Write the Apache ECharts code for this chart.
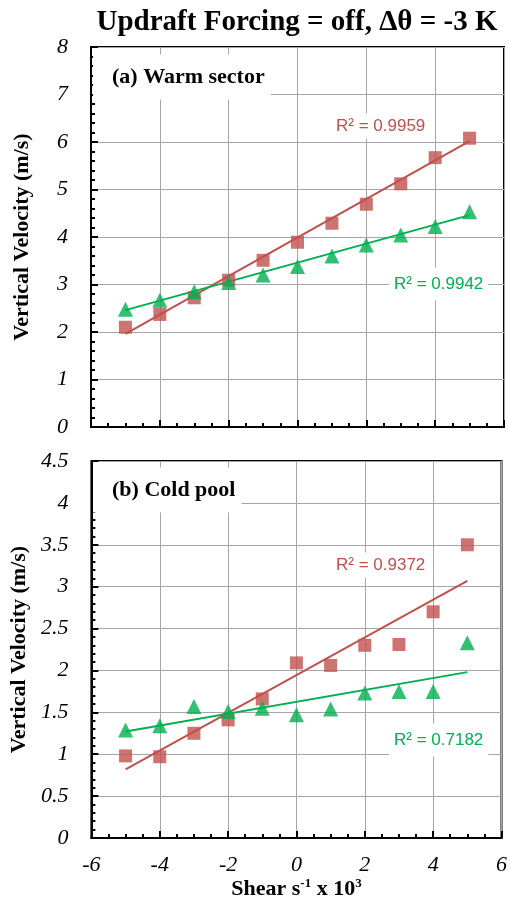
<!DOCTYPE html>
<html>
<head>
<meta charset="utf-8">
<script src="https://cdn.jsdelivr.net/npm/echarts@6/dist/echarts.min.js"></script>
<style>
  html, body { margin: 0; padding: 0; background: #fff; }
  #chart { width: 510px; height: 916px; }
</style>
</head>
<body>
<div id="chart"></div>
<script>
// shear values (s^-1 x 10^3)
const shear = [-5, -4, -3, -2, -1, 0, 1, 2, 3, 4, 5]

// (a) warm sector
const warmRed = [2.10, 2.37, 2.72, 3.09, 3.51, 3.89, 4.29, 4.69, 5.12, 5.67, 6.08]
const warmGreen = [2.48, 2.67, 2.85, 3.04, 3.20, 3.38, 3.60, 3.83, 4.04, 4.22, 4.53]

// (b) cold pool
const coldRed = [0.98, 0.97, 1.25, 1.41, 1.66, 2.09, 2.06, 2.30, 2.31, 2.70, 3.50]
const coldGreen = [1.29, 1.34, 1.57, 1.51, 1.55, 1.47, 1.54, 1.73, 1.75, 1.75, 2.33]

// linear trendlines, read at x = -5 and x = 5
const trendX = [-5, 5]
const warmRedTrend = [1.96, 6.02]
const warmGreenTrend = [2.46, 4.46]
const coldRedTrend = [0.82, 3.07]
const coldGreenTrend = [1.27, 1.98]

const r2Labels = ['R² = 0.9959', 'R² = 0.9942', 'R² = 0.9372', 'R² = 0.7182']

const RED = '#C0504D'
const GREEN = '#00B050'
const serif = '"Liberation Serif", "Times New Roman", serif'

const pairs = (xs, ys) => xs.map((x, i) => [x, ys[i]])

function xAxisFor(gridIndex, showLabels) {
  return {
    type: 'value',
    gridIndex: gridIndex,
    min: -6,
    max: 6,
    interval: 2,
    axisLine: { show: true, onZero: false, lineStyle: { color: '#000', width: 2 } },
    axisTick: { show: true, inside: true, length: 7, lineStyle: { color: '#000', width: 2 } },
    minorTick: { show: true, splitNumber: 4, length: 4, lineStyle: { color: '#000', width: 2 } },
    splitLine: { show: true, lineStyle: { color: '#a6a6a6', width: 1 } },
    axisLabel: {
      show: showLabels,
      margin: 16,
      color: '#000',
      fontFamily: serif,
      fontStyle: 'italic',
      fontSize: 22,
    },
    name: showLabels ? 'Shear s{sup|-1} x 10{sup|3}' : '',
    nameLocation: 'middle',
    nameGap: 34,
    nameTextStyle: {
      color: '#000',
      fontFamily: serif,
      fontWeight: 'bold',
      fontSize: 22,
      rich: {
        sup: { fontFamily: serif, fontWeight: 'bold', fontSize: 13, verticalAlign: 'top', lineHeight: 24, color: '#000' },
      },
    },
  }
}

function yAxisFor(gridIndex, max, interval) {
  return {
    type: 'value',
    gridIndex: gridIndex,
    min: 0,
    max: max,
    interval: interval,
    axisLine: { show: true, onZero: false, lineStyle: { color: '#000', width: 2 } },
    axisTick: { show: true, inside: true, length: 7, lineStyle: { color: '#000', width: 2 } },
    minorTick: { show: true, splitNumber: 5, length: 4, lineStyle: { color: '#000', width: 2 } },
    splitLine: { show: true, lineStyle: { color: '#a6a6a6', width: 1 } },
    axisLabel: {
      margin: 23,
      color: '#000',
      fontFamily: serif,
      fontStyle: 'italic',
      fontSize: 22,
    },
    name: 'Vertical Velocity (m/s)',
    nameLocation: 'middle',
    nameRotate: 90,
    nameGap: 58,
    nameTextStyle: { color: '#000', fontFamily: serif, fontWeight: 'bold', fontSize: 22 },
  }
}

function scatter(idx, ys, color, symbol) {
  return {
    type: 'scatter',
    xAxisIndex: idx,
    yAxisIndex: idx,
    data: pairs(shear, ys),
    symbol: symbol,
    symbolSize: symbol === 'rect' ? 13 : 15,
    itemStyle: { color: color },
    z: 3,
  }
}

function trend(idx, ys, color) {
  return {
    type: 'line',
    xAxisIndex: idx,
    yAxisIndex: idx,
    data: pairs(trendX, ys),
    showSymbol: false,
    symbol: 'none',
    lineStyle: { color: color, width: 2 },
    z: 2,
  }
}

function label(text, x, y, opts) {
  return {
    type: 'text',
    x: x,
    y: y,
    z: 100,
    style: Object.assign({
      text: text,
      align: 'left',
      verticalAlign: 'middle',
      backgroundColor: '#fff',
    }, opts),
  }
}

const chart = echarts.init(document.getElementById('chart'), null, { renderer: 'canvas' })

const option = {
  animation: false,
  backgroundColor: '#fff',
  grid: [
    { left: 91, right: 6, top: 47, height: 380, show: true, borderColor: '#000', borderWidth: 2, backgroundColor: 'transparent' },
    { left: 91, right: 6, top: 461, height: 377, show: true, borderColor: '#000', borderWidth: 2, backgroundColor: 'transparent' },
  ],
  xAxis: [xAxisFor(0, false), xAxisFor(1, true)],
  yAxis: [yAxisFor(0, 8, 1), yAxisFor(1, 4.5, 0.5)],
  series: [
    trend(0, warmRedTrend, RED),
    trend(0, warmGreenTrend, GREEN),
    scatter(0, warmRed, RED, 'rect'),
    scatter(0, warmGreen, GREEN, 'triangle'),
    trend(1, coldRedTrend, RED),
    trend(1, coldGreenTrend, GREEN),
    scatter(1, coldRed, RED, 'rect'),
    scatter(1, coldGreen, GREEN, 'triangle'),
  ],
  graphic: [
    {
      type: 'text',
      x: 297,
      y: 23,
      style: {
        text: 'Updraft Forcing = off, Δθ = -3 K',
        font: 'bold 29px ' + serif,
        fill: '#000',
        align: 'center',
        verticalAlign: 'middle',
      },
    },
    // panel labels
    label('(a) Warm sector', 93, 77, { font: 'bold 22px ' + serif, fill: '#000', padding: [18, 6, 5, 19] }),
    label('(b) Cold pool', 93, 490, { font: 'bold 22px ' + serif, fill: '#000', padding: [18, 6, 5, 19] }),
    // R² labels
    label(r2Labels[0], 332, 126, { font: '17px "Liberation Sans", Arial, sans-serif', fill: RED, padding: [4, 4] }),
    label(r2Labels[1], 389, 284, { font: '17px "Liberation Sans", Arial, sans-serif', fill: GREEN, padding: [8, 5] }),
    label(r2Labels[2], 332, 565, { font: '17px "Liberation Sans", Arial, sans-serif', fill: RED, padding: [4, 4] }),
    label(r2Labels[3], 389, 740, { font: '17px "Liberation Sans", Arial, sans-serif', fill: GREEN, padding: [8, 5] }),
  ],
}

chart.setOption(option)
</script>
</body>
</html>
